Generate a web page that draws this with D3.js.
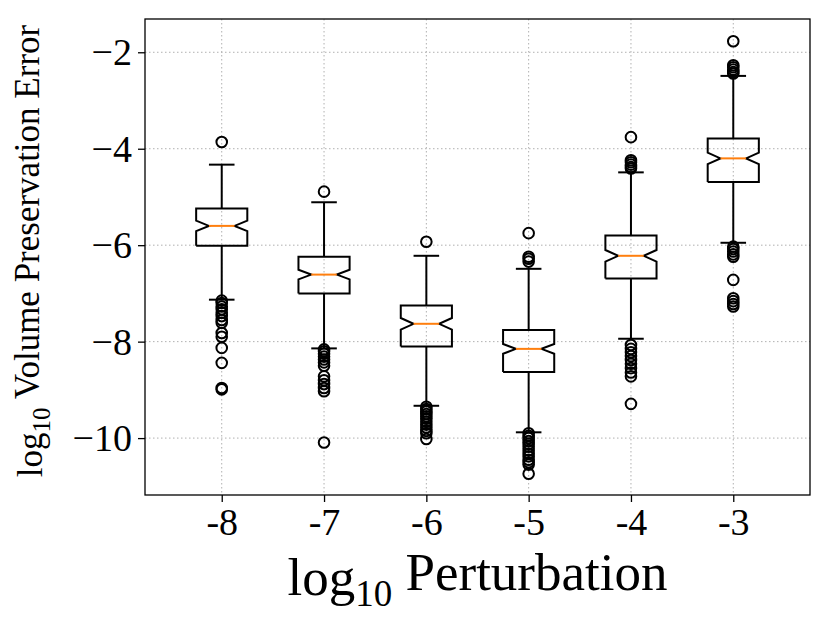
<!DOCTYPE html>
<html>
<head>
<meta charset="utf-8">
<script src="https://cdn.jsdelivr.net/npm/d3@7"></script>
<style>
  body { margin: 0; background: #fff; }
  svg text { font-family: "Liberation Serif", "DejaVu Serif", serif; fill: #000; }
</style>
</head>
<body>
<div id="chart"></div>
<script>
// box stats (log10 values)
const categories = ['-8', '-7', '-6', '-5', '-4', '-3'];
const q1 = [-6.01, -7.00, -8.10, -8.63, -6.69, -4.69];
const median = [-5.60, -6.61, -7.63, -8.15, -6.22, -4.20];
const q3 = [-5.24, -6.24, -7.25, -7.76, -5.80, -3.79];
const ciLo = [-5.71, -6.71, -7.75, -8.25, -6.34, -4.32];
const ciHi = [-5.49, -6.51, -7.51, -8.05, -6.10, -4.08];
const whiskerLow = [-7.13, -8.14, -9.33, -9.88, -7.94, -5.95];
const whiskerHigh = [-4.33, -5.11, -6.22, -6.49, -4.49, -2.49];
const fliers = [
  [-3.86, -7.15, -7.20, -7.27, -7.33, -7.40, -7.47, -7.55, -7.61, -7.82, -7.90, -8.13, -8.44, -8.96, -8.99],
  [-4.89, -8.16, -8.20, -8.25, -8.31, -8.37, -8.43, -8.50, -8.72, -8.80, -8.88, -8.96, -9.03, -10.09],
  [-5.93, -9.35, -9.40, -9.45, -9.50, -9.55, -9.60, -9.66, -9.72, -9.78, -9.85, -9.90, -10.02],
  [-5.75, -6.24, -6.28, -6.34, -9.90, -9.95, -10.00, -10.06, -10.12, -10.18, -10.25, -10.32, -10.38, -10.45, -10.50, -10.55, -10.74],
  [-3.76, -4.24, -4.28, -4.33, -4.38, -4.41, -8.07, -8.15, -8.22, -8.30, -8.38, -8.46, -8.55, -8.64, -8.72, -9.29],
  [-1.77, -2.27, -2.31, -2.36, -2.41, -2.44, -6.03, -6.08, -6.13, -6.19, -6.24, -6.72, -7.10, -7.16, -7.22, -7.27]
];
const yTicks = [-2, -4, -6, -8, -10];

const width = 830;
const height = 623;
const margin = { top: 19, right: 20, bottom: 128, left: 145 };
const plotW = width - margin.left - margin.right;
const plotH = height - margin.top - margin.bottom;

const boxWidth = 0.5;   // data units, like matplotlib
const capWidth = 0.25;

const x = d3.scaleLinear().domain([0.25, 6.75]).range([0, plotW]);
const y = d3.scaleLinear().domain([-11.18, -1.31]).range([plotH, 0]);

const svg = d3.select('#chart').append('svg')
  .attr('width', width)
  .attr('height', height);

const g = svg.append('g')
  .attr('transform', `translate(${margin.left},${margin.top})`);

// grid
g.append('g')
  .selectAll('line')
  .data(yTicks)
  .join('line')
    .attr('x1', 0).attr('x2', plotW)
    .attr('y1', d => y(d)).attr('y2', d => y(d))
    .attr('stroke', '#b0b0b0').attr('stroke-width', 1)
    .attr('stroke-dasharray', '1.5,2.5');

g.append('g')
  .selectAll('line')
  .data(categories)
  .join('line')
    .attr('x1', (d, i) => x(i + 1)).attr('x2', (d, i) => x(i + 1))
    .attr('y1', 0).attr('y2', plotH)
    .attr('stroke', '#b0b0b0').attr('stroke-width', 1)
    .attr('stroke-dasharray', '1.5,2.5');

// boxes
const boxes = g.append('g')
  .selectAll('g')
  .data(categories)
  .join('g');

const notchLine = d3.line().x(d => x(d[0])).y(d => y(d[1]));

// whiskers
boxes.append('line')
  .attr('x1', (d, i) => x(i + 1)).attr('x2', (d, i) => x(i + 1))
  .attr('y1', (d, i) => y(q1[i])).attr('y2', (d, i) => y(whiskerLow[i]))
  .attr('stroke', '#000').attr('stroke-width', 2);
boxes.append('line')
  .attr('x1', (d, i) => x(i + 1)).attr('x2', (d, i) => x(i + 1))
  .attr('y1', (d, i) => y(q3[i])).attr('y2', (d, i) => y(whiskerHigh[i]))
  .attr('stroke', '#000').attr('stroke-width', 2);

// caps
[whiskerLow, whiskerHigh].forEach(arr => {
  boxes.append('line')
    .attr('x1', (d, i) => x(i + 1 - capWidth / 2)).attr('x2', (d, i) => x(i + 1 + capWidth / 2))
    .attr('y1', (d, i) => y(arr[i])).attr('y2', (d, i) => y(arr[i]))
    .attr('stroke', '#000').attr('stroke-width', 2);
});

// notched box
boxes.append('path')
  .attr('d', (d, i) => {
    const p = i + 1;
    const l = p - boxWidth / 2, r = p + boxWidth / 2;
    const cl = p - capWidth / 2, cr = p + capWidth / 2;
    return notchLine([
      [l, q1[i]], [r, q1[i]], [r, ciLo[i]], [cr, median[i]], [r, ciHi[i]],
      [r, q3[i]], [l, q3[i]], [l, ciHi[i]], [cl, median[i]], [l, ciLo[i]], [l, q1[i]]
    ]);
  })
  .attr('fill', 'none')
  .attr('stroke', '#000').attr('stroke-width', 2)
  .attr('stroke-linejoin', 'miter');

// median
boxes.append('line')
  .attr('x1', (d, i) => x(i + 1 - capWidth / 2)).attr('x2', (d, i) => x(i + 1 + capWidth / 2))
  .attr('y1', (d, i) => y(median[i])).attr('y2', (d, i) => y(median[i]))
  .attr('stroke', '#ff7f0e').attr('stroke-width', 2);

// fliers
boxes.selectAll('circle')
  .data((d, i) => fliers[i].map(v => ({ pos: i + 1, v: v })))
  .join('circle')
    .attr('cx', d => x(d.pos))
    .attr('cy', d => y(d.v))
    .attr('r', 5.3)
    .attr('fill', 'none')
    .attr('stroke', '#000')
    .attr('stroke-width', 2);

// axes
const yAxis = d3.axisLeft(y)
  .tickValues(yTicks)
  .tickSize(7)
  .tickPadding(6)
  .tickFormat(d => String(d).replace('-', '\u2212'));

const yg = g.append('g').call(yAxis);
yg.select('.domain').remove();
yg.selectAll('.tick line').attr('stroke', '#000').attr('stroke-width', 1.3);
yg.selectAll('.tick text')
  .style('font-size', '38px')
  .attr('dy', '0.33em');

const xAxis = d3.axisBottom(x)
  .tickValues(d3.range(1, categories.length + 1))
  .tickSize(7)
  .tickPadding(6)
  .tickFormat(d => categories[d - 1]);

const xg = g.append('g')
  .attr('transform', `translate(0,${plotH})`)
  .call(xAxis);
xg.select('.domain').remove();
xg.selectAll('.tick line').attr('stroke', '#000').attr('stroke-width', 1.3);
xg.selectAll('.tick text')
  .style('font-size', '38px')
  .attr('dy', '0.71em');

// frame
g.append('rect')
  .attr('x', 0).attr('y', 0)
  .attr('width', plotW).attr('height', plotH)
  .attr('fill', 'none')
  .attr('stroke', '#000')
  .attr('stroke-width', 1.3);

// axis titles
const xt = svg.append('text')
  .attr('x', margin.left + plotW / 2)
  .attr('y', 595)
  .attr('text-anchor', 'middle')
  .style('font-size', '53px');
xt.append('tspan').text('log');
xt.append('tspan').attr('dy', '0.3em').style('font-size', '37px').text('10');
xt.append('tspan').attr('dy', '-0.3em').text(' Perturbation');

const yt = svg.append('text')
  .attr('transform', `translate(42,${margin.top + plotH / 2 - 6}) rotate(-90)`)
  .attr('text-anchor', 'middle')
  .style('font-size', '35px');
yt.append('tspan').text('log');
yt.append('tspan').attr('dy', '0.3em').style('font-size', '25px').text('10');
yt.append('tspan').attr('dy', '-0.3em').text(' Volume Preservation Error');
</script>
</body>
</html>
